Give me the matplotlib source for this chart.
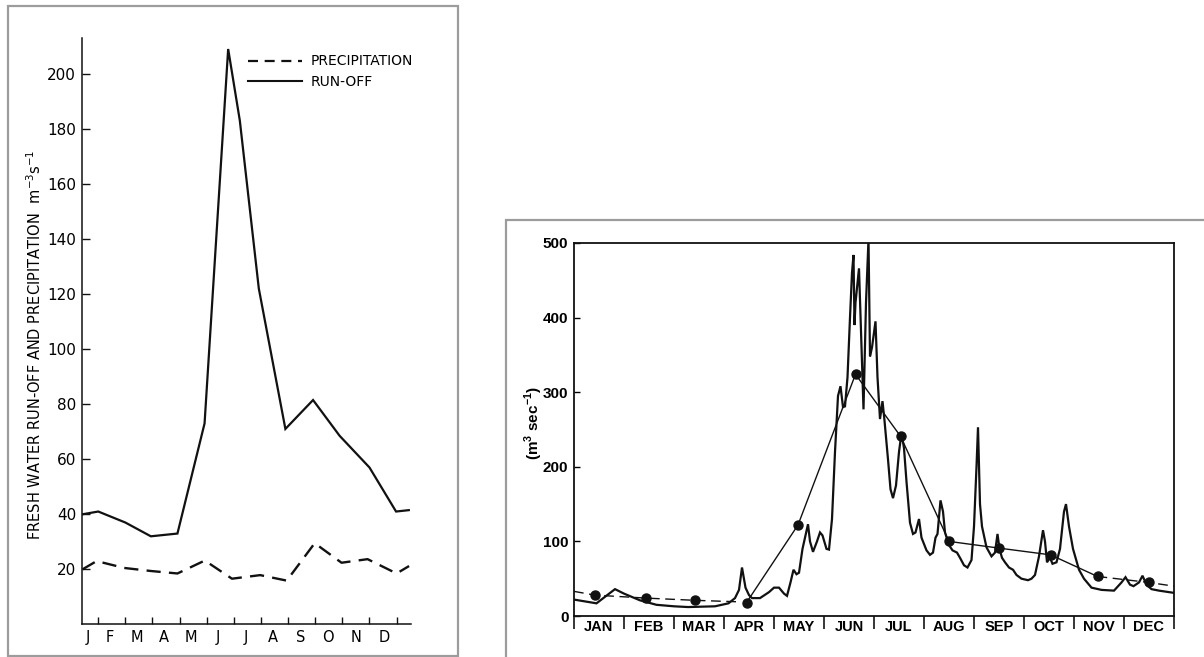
import matplotlib
matplotlib.use("Agg")
import matplotlib.pyplot as plt
from matplotlib.patches import Rectangle
from matplotlib.lines import Line2D

plt.rcParams['mathtext.fontset'] = 'custom'
plt.rcParams['mathtext.rm'] = 'Liberation Sans Narrow'
plt.rcParams['mathtext.bf'] = 'Liberation Sans:bold'

# ---------------- Left panel data ----------------
left_month_labels = ["J", "F", "M", "A", "M", "J", "J", "A", "S", "O", "N", "D"]
left_label_pos = [0.63, 1.43, 2.41, 3.42, 4.42, 5.42, 6.43, 7.45, 8.47, 9.48, 10.52, 11.53]
left_tick_pos = [1, 2, 3, 4, 5, 6, 7, 8, 9, 10, 11, 12]
left_yticks = [20, 40, 60, 80, 100, 120, 140, 160, 180, 200]

runoff_x = [0.42, 1.0, 2.0, 2.94, 3.92, 4.92, 5.79, 6.22, 6.92, 7.90, 8.92, 9.90, 11.0, 11.98, 12.45]
runoff_y = [40, 41, 37, 32, 33, 73, 209, 183, 122, 71, 81.5, 68.5, 57, 41, 41.5]

precip_x = [0.42, 0.94, 1.96, 2.94, 3.92, 4.93, 5.93, 6.97, 7.95, 8.98, 9.97, 10.93, 12.0, 12.46]
precip_y = [20, 23, 20.5, 19.4, 18.5, 23.2, 16.6, 17.9, 15.9, 29.5, 22.4, 23.7, 18.5, 21.2]

# ---------------- Right panel data ----------------
right_month_labels = ["JAN", "FEB", "MAR", "APR", "MAY", "JUN", "JUL", "AUG", "SEP", "OCT", "NOV", "DEC"]
right_yticks = [0, 100, 200, 300, 400, 500]

daily_x = [0.00, 0.45, 0.82, 1.00, 1.32, 1.65, 2.00, 2.28, 2.82, 3.09, 3.22, 3.30, 3.36, 3.43,
           3.50, 3.56, 3.72, 3.90, 4.00, 4.10, 4.20, 4.26, 4.33, 4.39, 4.45, 4.50, 4.57, 4.68,
           4.72, 4.78, 4.86, 4.92, 4.97, 5.05, 5.10, 5.16, 5.22, 5.28, 5.33, 5.38, 5.42, 5.47,
           5.52, 5.56, 5.59, 5.61, 5.63, 5.66, 5.70, 5.75, 5.79, 5.84, 5.89, 5.92, 5.96, 6.03,
           6.07, 6.12, 6.17, 6.21, 6.28, 6.33, 6.38, 6.44, 6.50, 6.55, 6.60, 6.65, 6.72, 6.78,
           6.83, 6.90, 6.95, 7.05, 7.12, 7.18, 7.23, 7.27, 7.33, 7.38, 7.42, 7.50, 7.57, 7.66,
           7.72, 7.80, 7.87, 7.95, 8.00, 8.05, 8.08, 8.12, 8.16, 8.25, 8.35, 8.42, 8.47, 8.51,
           8.56, 8.62, 8.70, 8.78, 8.85, 8.95, 9.08, 9.15, 9.22, 9.30, 9.38, 9.42, 9.46, 9.52,
           9.57, 9.65, 9.72, 9.80, 9.84, 9.90, 9.98, 10.10, 10.20, 10.35, 10.55, 10.80, 10.95,
           11.03, 11.12, 11.19, 11.30, 11.37, 11.45, 11.55, 11.70, 12.00]
daily_y = [22, 17, 36, 30, 21, 15, 13, 12, 13, 17, 24, 35, 65, 38,
           28, 24, 24, 32, 38, 38, 30, 27, 45, 62, 56, 58, 90, 123,
           100, 86, 100, 112, 108, 90, 89, 130, 220, 295, 308, 280, 281, 320,
           400, 460, 484, 390, 420, 440, 466, 360, 277, 420, 505, 348, 360, 395,
           320, 264, 288, 262, 210, 170, 158, 175, 220, 245, 225, 180, 125, 110,
           112, 130, 105, 88, 82, 85, 105, 110, 155, 140, 112, 95, 88, 85,
           78, 68, 65, 75, 120, 200, 253, 150, 120, 92, 80, 85, 110, 90,
           78, 72, 65, 62, 55, 50, 48, 50, 55, 80, 115, 100, 72, 78,
           70, 72, 90, 140, 150, 120, 90, 62, 50, 38, 35, 34, 45,
           52, 42, 40, 45, 54, 42, 36, 34, 31]

# monthly means (dots)
mean_x = [0.42, 1.44, 2.42, 3.45, 4.48, 5.63, 6.53, 7.50, 8.50, 9.53, 10.47, 11.49]
mean_y = [28, 24, 21, 18, 122, 324, 241, 100, 91, 82, 53, 45]
# dashed extensions of the mean curve
mean_start_x = [0.0, 0.42, 1.44, 2.42, 3.30]
mean_start_y = [33, 28, 24, 21, 19]
mean_end_x = [10.47, 11.49, 12.0]
mean_end_y = [53, 45, 40]

# ---------------- Figure ----------------
W, H = 1204, 657
fig = plt.figure(figsize=(W / 100, H / 100), dpi=100)
fig.patch.set_facecolor("white")

# gray frames around the two scanned panels
fig.patches.append(Rectangle((8 / W, 1 - 655.5 / H), (457.5 - 8) / W, (655.5 - 6) / H,
                             transform=fig.transFigure, fill=False, ec="#9c9c9c", lw=1.6))
fig.patches.append(Rectangle((505.5 / W, -0.2), 0.7, (657 - 220) / H + 0.2,
                             transform=fig.transFigure, fill=False, ec="#9c9c9c", lw=1.6))

narrow = ["Liberation Sans Narrow", "DejaVu Sans"]
boldf = ["Liberation Sans", "DejaVu Sans"]

# ---------------- Left panel ----------------
ax1 = fig.add_axes([81.7 / W, (H - 624.4) / H, (410.7 - 81.7) / W, (624.4 - 38) / H])
ax1.set_xlim(0.39, 12.52)
ax1.set_ylim(0, 213)
for s in ["top", "right"]:
    ax1.spines[s].set_visible(False)
for s in ["left", "bottom"]:
    ax1.spines[s].set_linewidth(1.1)
    ax1.spines[s].set_color("#111111")

ax1.plot(runoff_x, runoff_y, color="#111111", lw=1.6, solid_joinstyle="miter")
ax1.plot(precip_x, precip_y, color="#111111", lw=1.7, linestyle=(0, (6.0, 3.5)))

ax1.set_yticks(left_yticks)
ax1.set_yticklabels([str(v) for v in left_yticks], fontfamily=narrow, fontsize=11)
ax1.tick_params(axis="y", direction="in", length=5.5, width=1.0, pad=4, color="#111111")
ax1.set_xticks(left_tick_pos)
ax1.set_xticklabels([])
ax1.tick_params(axis="x", which="major", direction="in", length=5, width=1.0, color="#111111")
ax1.set_xticks(left_label_pos, minor=True)
ax1.set_xticklabels(left_month_labels, minor=True, fontfamily=narrow, fontsize=10.5)
ax1.tick_params(axis="x", which="minor", length=0, pad=4)

ax1.set_ylabel(r"FRESH WATER RUN-OFF AND PRECIPITATION  m$^{-3}$s$^{-1}$",
               fontfamily=narrow, fontsize=10.5)
ax1.yaxis.set_label_coords((44 - 81.7) / 329, (624.4 - 345) / 586.4)

handles = [Line2D([], [], color="#111111", lw=1.6, linestyle=(0, (4.5, 3))),
           Line2D([], [], color="#111111", lw=1.5)]
ax1.legend(handles, ["PRECIPITATION", "RUN-OFF"], loc="upper left",
           bbox_to_anchor=(0.505, 0.972), frameon=False, handlelength=3.9,
           handletextpad=0.6, labelspacing=0.45, borderpad=0, borderaxespad=0,
           prop={"family": narrow, "size": 10})

# ---------------- Right panel ----------------
ax2 = fig.add_axes([574 / W, (H - 616) / H, 600 / W, (616 - 243) / H])
ax2.set_xlim(0, 12)
ax2.set_ylim(0, 500)
for s in ax2.spines.values():
    s.set_linewidth(1.3)
    s.set_color("#111111")

ax2.plot(daily_x, daily_y, color="#111111", lw=1.6, solid_joinstyle="miter")
ax2.plot(mean_start_x, mean_start_y, color="#111111", lw=1.0, linestyle=(0, (7, 4)))
ax2.plot(mean_x[3:11], mean_y[3:11], color="#111111", lw=1.0)
ax2.plot(mean_end_x, mean_end_y, color="#111111", lw=1.0, linestyle=(0, (7, 4)))
ax2.plot(mean_x, mean_y, linestyle="none", marker="o", ms=6.5, color="#111111")

ax2.set_yticks(right_yticks)
ax2.set_yticklabels([str(v) for v in right_yticks], fontfamily=boldf,
                    fontweight="bold", fontsize=11)
ax2.tick_params(axis="y", direction="in", length=4, width=1.0, pad=4)
ax2.set_xticks(range(13))
ax2.set_xticklabels([])
ax2.tick_params(axis="x", which="major", direction="out", length=9, width=1.1)
ax2.set_xticks([m + 0.5 for m in range(12)], minor=True)
ax2.set_xticklabels(right_month_labels, minor=True, fontfamily=boldf,
                    fontweight="bold", fontsize=10.5)
ax2.tick_params(axis="x", which="minor", length=0, pad=3)

ax2.set_ylabel(r"(m$^{\mathbf{3}}$ sec$^{\mathbf{-1}}$)", fontfamily=boldf,
               fontweight="bold", fontsize=11)
ax2.yaxis.set_label_coords((545 - 574) / 600, (616 - 423) / 373)

fig.savefig("out.png", dpi=100)
